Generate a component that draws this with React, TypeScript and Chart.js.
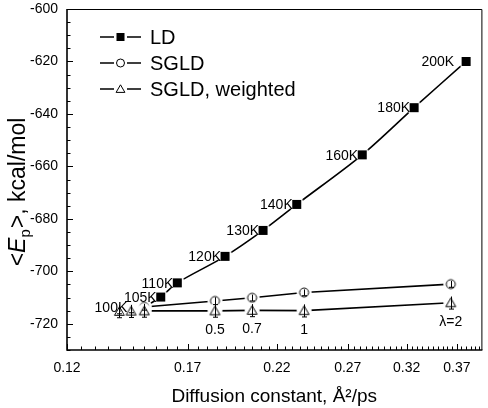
import React, { useEffect, useRef } from "react";
import { Chart, registerables } from "chart.js";

Chart.register(...registerables);

// ---- data ----
const ldLabels = ["100K", "105K", "110K", "120K", "130K", "140K", "160K", "180K", "200K"];
const ldX = [0.15, 0.1573, 0.165, 0.1894, 0.2114, 0.233, 0.2815, 0.327, 0.38];
const ldY = [-713.6, -709.8, -704.4, -694.3, -684.4, -674.5, -655.6, -637.6, -620.0];

const sgldX = [0.1396, 0.1444, 0.15, 0.184, 0.2048, 0.238, 0.3636];
const sgldY = [-714.8, -714.6, -713.6, -711.3, -710.1, -708.1, -704.9];
const sgldErr = [1.4, 1.2, 1.2, 1.4, 1.2, 1.2, 1.2];

const wX = [0.1396, 0.1444, 0.15, 0.184, 0.2048, 0.238, 0.3636];
const wY = [-715.3, -715.2, -715.1, -715.1, -714.9, -715.0, -712.0];
const wErr = [2.4, 2.4, 2.4, 2.4, 2.4, 2.4, 2.4];

const lambdaLabels = ["", "", "", "0.5", "0.7", "1", "\u03bb=2"];

const xTickValues = [0.12, 0.17, 0.22, 0.27, 0.32, 0.37];
const xTickLabels = ["0.12", "0.17", "0.22", "0.27", "0.32", "0.37"];
const yTickValues = [-720, -700, -680, -660, -640, -620, -600];
const yTickLabels = ["-720", "-700", "-680", "-660", "-640", "-620", "-600"];

const seriesNames = ["LD", "SGLD", "SGLD, weighted"];

// label placement (style): gap between label end and point centre
const ldLabelGap = [17, 4, 4, 4, 4, 4, 4, 4, 12];

const FONT = "'Liberation Sans', Arial, Helvetica, sans-serif";

type Kind = "square" | "circle" | "triangle";

function makeMarker(kind: Kind, size: number, halo: number, lw: number) {
  const pad = halo + 2;
  const dim = Math.round(size + 2 * pad);
  const c = document.createElement("canvas");
  c.width = dim;
  c.height = dim;
  const g = c.getContext("2d")!;
  const cx = dim / 2;
  const cy = dim / 2;
  const r = size / 2;
  if (halo > 0) {
    g.fillStyle = "#fff";
    g.beginPath();
    g.arc(cx, cy, r + halo, 0, Math.PI * 2);
    g.fill();
  }
  drawShape(g, kind, cx, cy, size, lw);
  return c;
}

function drawShape(g: CanvasRenderingContext2D, kind: Kind, cx: number, cy: number, size: number, lw: number) {
  const r = size / 2;
  g.lineWidth = lw;
  g.strokeStyle = "#000";
  if (kind === "square") {
    g.fillStyle = "#000";
    g.fillRect(cx - r, cy - r, size, size);
  } else if (kind === "circle") {
    g.fillStyle = "#fff";
    g.beginPath();
    g.arc(cx, cy, r, 0, Math.PI * 2);
    g.fill();
    g.stroke();
  } else {
    g.fillStyle = "#fff";
    g.beginPath();
    g.moveTo(cx, cy - r * 1.05);
    g.lineTo(cx + r * 1.1, cy + r * 0.85);
    g.lineTo(cx - r * 1.1, cy + r * 0.85);
    g.closePath();
    g.fill();
    g.stroke();
  }
}

const kinds: Kind[] = ["square", "circle", "triangle"];

const framePlugin = {
  id: "frameTicks",
  afterDatasetsDraw(chart: any) {
    const { ctx, chartArea: a, scales } = chart;
    const xs = scales.x;
    const ys = scales.y;
    ctx.save();
    ctx.strokeStyle = "#000";
    ctx.lineWidth = 1;
    ctx.beginPath();
    ctx.moveTo(a.left, a.top + 0.5);
    ctx.lineTo(a.right + 0.5, a.top + 0.5);
    ctx.lineTo(a.right + 0.5, a.bottom);
    ctx.stroke();
    ctx.lineWidth = 1.6;
    ctx.beginPath();
    ctx.moveTo(a.left, a.top);
    ctx.lineTo(a.left, a.bottom);
    ctx.lineTo(a.right + 1, a.bottom);
    ctx.stroke();
    ctx.lineWidth = 1;
    for (let k = 24; k <= 79; k++) {
      const v = k * 0.005;
      const px = Math.round(xs.getPixelForValue(v)) + 0.5;
      if (px > a.right) break;
      const major = (k - 24) % 10 === 0;
      const len = major ? 6 : 3.5;
      ctx.beginPath();
      ctx.moveTo(px, a.bottom);
      ctx.lineTo(px, a.bottom - len);
      ctx.stroke();
    }
    for (let v = -730; v <= -600; v += 5) {
      const py = Math.round(ys.getPixelForValue(v)) + 0.5;
      const major = v % 20 === 0;
      const len = major ? 6 : 3.5;
      ctx.beginPath();
      ctx.moveTo(a.left, py);
      ctx.lineTo(a.left + len, py);
      ctx.stroke();
    }
    ctx.restore();
  },
};

const annotPlugin = {
  id: "annotations",
  afterDatasetsDraw(chart: any) {
    const { ctx, scales } = chart;
    const ys = scales.y;
    ctx.save();
    ctx.strokeStyle = "#000";
    ctx.lineWidth = 1;
    const errSets: [number, number[], number[]][] = [
      [1, sgldY, sgldErr],
      [2, wY, wErr],
    ];
    errSets.forEach(([di, vals, errs]) => {
      const meta = chart.getDatasetMeta(di);
      meta.data.forEach((pt: any, i: number) => {
        const x = Math.round(pt.x) + 0.5;
        const t = ys.getPixelForValue(vals[i] + errs[i]);
        const b = ys.getPixelForValue(vals[i] - errs[i]);
        ctx.beginPath();
        ctx.moveTo(x, t);
        ctx.lineTo(x, b);
        ctx.moveTo(x - 2.5, b);
        ctx.lineTo(x + 2.5, b);
        ctx.stroke();
      });
    });
    ctx.fillStyle = "#000";
    ctx.font = `14px ${FONT}`;
    ctx.textAlign = "right";
    ctx.textBaseline = "middle";
    chart.getDatasetMeta(0).data.forEach((pt: any, i: number) => {
      ctx.fillText(ldLabels[i], pt.x - ldLabelGap[i], pt.y + 1);
    });
    ctx.textAlign = "center";
    chart.getDatasetMeta(2).data.forEach((pt: any, i: number) => {
      if (lambdaLabels[i]) ctx.fillText(lambdaLabels[i], pt.x, pt.y + 19);
    });
    ctx.restore();
  },
};

const legendPlugin = {
  id: "insideLegend",
  afterDraw(chart: any) {
    const { ctx } = chart;
    ctx.save();
    const rows = [37, 63, 89];
    seriesNames.forEach((name, i) => {
      const y = rows[i];
      ctx.strokeStyle = "#000";
      ctx.lineWidth = 1.5;
      ctx.beginPath();
      ctx.moveTo(100, y);
      ctx.lineTo(114, y);
      ctx.moveTo(127, y);
      ctx.lineTo(141, y);
      ctx.stroke();
      drawShape(ctx, kinds[i], 120.5, y, 8, 1);
      ctx.fillStyle = "#000";
      ctx.font = `20px ${FONT}`;
      ctx.textAlign = "left";
      ctx.textBaseline = "middle";
      ctx.fillText(name, 150, y + 1);
    });
    ctx.restore();
  },
};

const yTitlePlugin = {
  id: "yTitle",
  afterDraw(chart: any) {
    const { ctx } = chart;
    ctx.save();
    const big = `23px ${FONT}`;
    const ital = `italic 23px ${FONT}`;
    const small = `15px ${FONT}`;
    const parts: [string, string, number][] = [
      ["<", big, 0],
      ["E", ital, 0],
      ["p", small, 5],
      [">, kcal/mol", big, 0],
    ];
    let total = 0;
    const widths = parts.map(([t, f]) => {
      ctx.font = f;
      const w = ctx.measureText(t).width;
      total += w;
      return w;
    });
    total += 1;
    ctx.translate(25, 192);
    ctx.rotate(-Math.PI / 2);
    ctx.fillStyle = "#000";
    ctx.textAlign = "left";
    ctx.textBaseline = "alphabetic";
    let x = -total / 2;
    parts.forEach(([t, f, dy], i) => {
      ctx.font = f;
      ctx.fillText(t, x, dy);
      x += widths[i] + (i === 2 ? 1 : 0);
    });
    ctx.restore();
  },
};

export default function App() {
  const ref = useRef<HTMLCanvasElement | null>(null);

  useEffect(() => {
    document.body.style.margin = "0";
    const canvas = ref.current!;
    const mSq = makeMarker("square", 9, 3, 1);
    const mCi = makeMarker("circle", 9, 3, 1);
    const mTr = makeMarker("triangle", 9, 3, 1);

    const chart = new Chart(canvas, {
      type: "line",
      data: {
        datasets: [
          {
            label: seriesNames[0],
            data: ldX.map((x, i) => ({ x, y: ldY[i] })),
            borderColor: "#000",
            borderWidth: 1.6,
            tension: 0.3,
            pointStyle: mSq as any,
            pointRadius: 5,
            order: 3,
          },
          {
            label: seriesNames[1],
            data: sgldX.map((x, i) => ({ x, y: sgldY[i] })),
            borderColor: "#000",
            borderWidth: 1.6,
            tension: 0,
            pointStyle: mCi as any,
            pointRadius: 5,
            order: 2,
          },
          {
            label: seriesNames[2],
            data: wX.map((x, i) => ({ x, y: wY[i] })),
            borderColor: "#000",
            borderWidth: 1.6,
            tension: 0,
            pointStyle: mTr as any,
            pointRadius: 5,
            order: 1,
          },
        ],
      },
      options: {
        animation: false,
        responsive: false,
        devicePixelRatio: 1,
        layout: { padding: { top: 9, right: 2, left: 0, bottom: 0 } },
        plugins: {
          legend: { display: false },
          tooltip: { enabled: false },
        },
        scales: {
          x: {
            type: "logarithmic",
            position: "bottom",
            min: 0.12,
            max: 0.3972,
            grid: { display: false, drawTicks: false },
            border: { display: false },
            afterBuildTicks: (s: any) => {
              s.ticks = xTickValues.map((v) => ({ value: v }));
            },
            afterFit: (s: any) => {
              s.height = 58;
              s.paddingLeft = 0;
              s.paddingRight = 0;
            },
            ticks: {
              autoSkip: false,
              maxRotation: 0,
              padding: 10,
              color: "#000",
              font: { family: FONT, size: 14 },
              callback: (_v: any, i: number) => xTickLabels[i],
            },
            title: {
              display: true,
              text: "Diffusion constant, \u00c5\u00b2/ps",
              color: "#000",
              font: { family: FONT, size: 19 },
              padding: { top: 0, bottom: 0 },
            },
          },
          y: {
            type: "linear",
            min: -730,
            max: -600,
            grid: { display: false, drawTicks: false },
            border: { display: false },
            afterBuildTicks: (s: any) => {
              s.ticks = yTickValues.map((v) => ({ value: v }));
            },
            afterFit: (s: any) => {
              s.width = 67;
              s.paddingTop = 0;
              s.paddingBottom = 0;
            },
            ticks: {
              autoSkip: false,
              padding: 9,
              color: "#000",
              font: { family: FONT, size: 14 },
              callback: (_v: any, i: number) => yTickLabels[i],
            },
          },
        },
      },
      plugins: [framePlugin, annotPlugin, legendPlugin, yTitlePlugin],
    });
    return () => chart.destroy();
  }, []);

  return (
    <div style={{ width: 488, height: 408 }}>
      <canvas ref={ref} width={488} height={408} style={{ display: "block" }} />
    </div>
  );
}
